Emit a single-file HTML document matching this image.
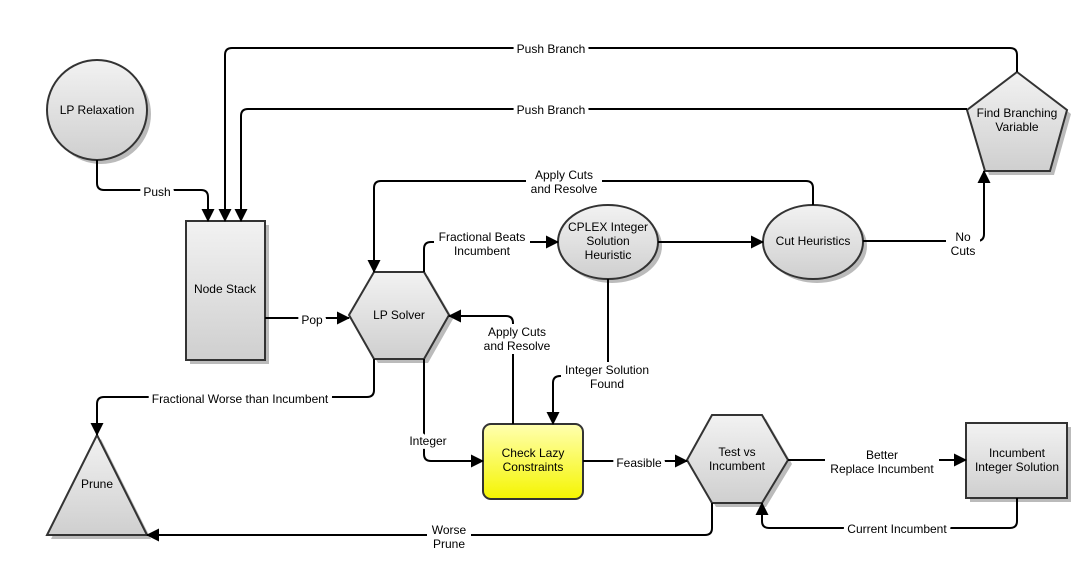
<!DOCTYPE html>
<html><head><meta charset="utf-8"><style>html,body{margin:0;padding:0;background:#fff}svg{display:block}</style></head><body>
<svg width="1087" height="574" viewBox="0 0 1087 574" xmlns="http://www.w3.org/2000/svg" font-family="Liberation Sans, sans-serif" font-size="12">
<defs>
<linearGradient id="g" x1="0" y1="0" x2="0" y2="1"><stop offset="0" stop-color="#f2f2f2"/><stop offset="1" stop-color="#cfcfcf"/></linearGradient>
<linearGradient id="y" x1="0" y1="0" x2="0" y2="1"><stop offset="0" stop-color="#ffffb0"/><stop offset="1" stop-color="#f5f500"/></linearGradient>
<marker id="a" markerWidth="13" markerHeight="13" refX="12" refY="6.5" orient="auto" markerUnits="userSpaceOnUse"><path d="M0,0 L13,6.5 L0,13 Z" fill="#000"/></marker>
</defs>
<g fill="#bbb" transform="translate(4,4)">
<circle cx="97" cy="110" r="50"/>
<rect x="186" y="221" width="79" height="139"/>
<polygon points="374,272 424,272 449,315 424,359 374,359 349,315"/>
<ellipse cx="608" cy="242" rx="50" ry="37"/>
<ellipse cx="813" cy="242" rx="50" ry="37"/>
<polygon points="1017,72 1067,110 1050,171 985,171 967,110"/>
<polygon points="712,415 762,415 788,460 762,503 712,503 687,460"/>
<rect x="966" y="423" width="101" height="75"/>
<polygon points="97,435 147,535 47,535"/>
</g>
<g stroke="#333" stroke-width="2">
<circle cx="97" cy="110" r="50" fill="url(#g)"/>
<rect x="186" y="221" width="79" height="139" fill="url(#g)"/>
<polygon points="374,272 424,272 449,315 424,359 374,359 349,315" fill="url(#g)"/>
<ellipse cx="608" cy="242" rx="50" ry="37" fill="url(#g)"/>
<ellipse cx="813" cy="242" rx="50" ry="37" fill="url(#g)"/>
<polygon points="1017,72 1067,110 1050,171 985,171 967,110" fill="url(#g)"/>
<polygon points="712,415 762,415 788,460 762,503 712,503 687,460" fill="url(#g)"/>
<rect x="966" y="423" width="101" height="75" fill="url(#g)"/>
<polygon points="97,435 147,535 47,535" fill="url(#g)"/>
<rect x="483" y="424" width="100" height="75" rx="8" fill="url(#y)"/>
</g>
<g fill="none" stroke="#000" stroke-width="2" marker-end="url(#a)">
<path d="M97,160 V183 Q97,190 104,190 H201 Q208,190 208,197 V221"/>
<path d="M1017,72 V55 Q1017,48 1010,48 H232 Q225,48 225,55 V221"/>
<path d="M967,109 H248 Q241,109 241,116 V221"/>
<path d="M813,205 V188 Q813,181 806,181 H381 Q374,181 374,188 V272"/>
<path d="M424,272 V249 Q424,242 431,242 H558"/>
<path d="M658,242 H763"/>
<path d="M863,241 H977 Q984,241 984,234 V171"/>
<path d="M265,318 H349"/>
<path d="M513,424 V323 Q513,316 506,316 H449"/>
<path d="M608,279 V376 H560 Q553,376 553,383 V424"/>
<path d="M374,359 V390 Q374,397 367,397 H104 Q97,397 97,404 V435"/>
<path d="M424,359 V454 Q424,461 431,461 H483"/>
<path d="M583,461 H687"/>
<path d="M788,460 H966"/>
<path d="M1017,498 V521 Q1017,528 1010,528 H769 Q762,528 762,521 V503"/>
<path d="M712,503 V528 Q712,535 705,535 H147"/>
</g>
<g fill="#fff">
<rect x="526" y="167" width="76" height="30"/>
<rect x="434" y="229" width="96" height="30"/>
<rect x="946" y="229" width="34" height="30"/>
<rect x="480" y="324" width="75" height="30"/>
<rect x="561" y="362" width="93" height="30"/>
<rect x="825" y="447" width="114" height="30"/>
<rect x="427" y="521" width="44" height="30"/>
</g>
<g text-anchor="middle" fill="#000">
<text x="97" y="114">LP Relaxation</text>
<text x="225" y="293">Node Stack</text>
<text x="399" y="319">LP Solver</text>
<text x="608" y="231">CPLEX Integer</text><text x="608" y="245">Solution</text><text x="608" y="259">Heuristic</text>
<text x="813" y="245">Cut Heuristics</text>
<text x="1017" y="117">Find Branching</text><text x="1017" y="131">Variable</text>
<text x="533" y="457">Check Lazy</text><text x="533" y="471">Constraints</text>
<text x="737" y="456">Test vs</text><text x="737" y="470">Incumbent</text>
<text x="1017" y="457">Incumbent</text><text x="1017" y="471">Integer Solution</text>
<text x="97" y="488">Prune</text>
<text x="564" y="179">Apply Cuts</text><text x="564" y="193">and Resolve</text>
<text x="482" y="241">Fractional Beats</text><text x="482" y="255">Incumbent</text>
<text x="963" y="241">No</text><text x="963" y="255">Cuts</text>
<text x="517" y="336">Apply Cuts</text><text x="517" y="350">and Resolve</text>
<text x="607" y="374">Integer Solution</text><text x="607" y="388">Found</text>
<text x="882" y="459">Better</text><text x="882" y="473">Replace Incumbent</text>
<text x="449" y="534">Worse</text><text x="449" y="548">Prune</text>
</g>
<g text-anchor="middle" fill="#000" stroke="#fff" stroke-width="8" paint-order="stroke" stroke-linejoin="round">
<text x="157" y="196">Push</text>
<text x="551" y="53">Push Branch</text>
<text x="551" y="114">Push Branch</text>
<text x="312" y="324">Pop</text>
<text x="240" y="403">Fractional Worse than Incumbent</text>
<text x="428" y="445">Integer</text>
<text x="639" y="467">Feasible</text>
<text x="897" y="533">Current Incumbent</text>
</g>
</svg>
</body></html>
